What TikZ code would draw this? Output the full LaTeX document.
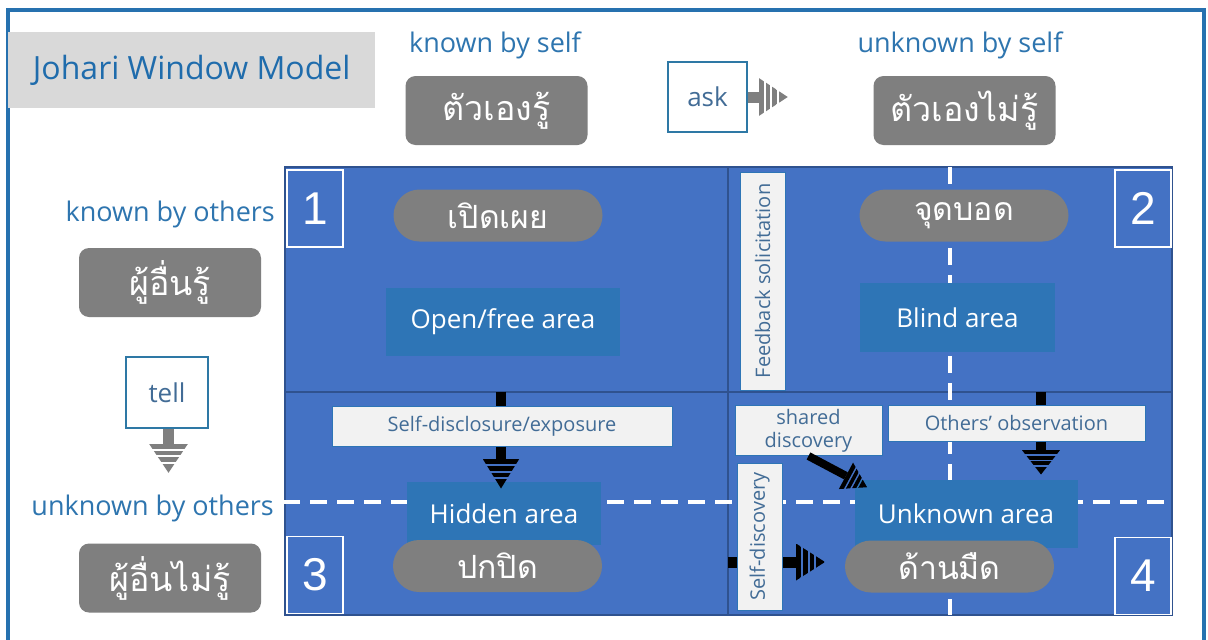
\documentclass[tikz,border=0pt]{standalone}
\usepackage{fontspec}
\setmainfont{Open Sans}
\newfontfamily\thaifont[Script=Thai]{Loma}
\newfontfamily\numfont{Liberation Sans}
\usetikzlibrary{calc}
\definecolor{framecol}{RGB}{38,113,175}
\definecolor{titlegray}{RGB}{217,217,217}
\definecolor{titleblue}{RGB}{31,108,172}
\definecolor{headblue}{RGB}{46,117,175}
\definecolor{boxgray}{RGB}{127,127,127}
\definecolor{quadfill}{RGB}{68,114,196}
\definecolor{divcol}{RGB}{47,82,143}
\definecolor{areafill}{RGB}{46,117,182}
\definecolor{lblfill}{RGB}{242,242,242}
\definecolor{lbltext}{RGB}{66,108,150}
\definecolor{askcol}{RGB}{46,120,165}
\tikzset{
  shead/.pic={
    \begin{scope}
      \clip (0,-1) -- (1,0) -- (0,1) -- cycle;
      \fill (0,-1) rectangle (0.18,1);
      \fill (0.25,-1) rectangle (0.40,1);
      \fill (0.47,-1) rectangle (0.62,1);
      \fill (0.69,-1) rectangle (1.01,1);
    \end{scope}
  }
}
\begin{document}
\begin{tikzpicture}[x=1pt,y=-1pt,
  hdr/.style={text=headblue, font=\fontsize{27}{27}\selectfont, inner sep=0},
  thaibox/.style={fill=boxgray, rounded corners=10, minimum width=182, minimum height=69, inner sep=0, text=white, font=\thaifont\fontsize{34}{34}\selectfont},
  askbox/.style={draw=askcol, line width=1.5, fill=white, text=lbltext, font=\fontsize{26}{26}\selectfont, inner sep=0},
  numbox/.style={draw=white, line width=1.5, minimum width=56, minimum height=77, inner sep=0, text=white, font=\numfont\fontsize{46}{46}\selectfont},
  pill/.style={fill=boxgray, rounded corners=26, minimum width=209, minimum height=52, inner sep=0, text=white, font=\thaifont\fontsize{32}{32}\selectfont},
  areabox/.style={fill=areafill, inner sep=0, text=white, font=\fontsize{26}{26}\selectfont},
  lbl/.style={fill=lblfill, draw=areafill, line width=1, inner sep=0, text=lbltext, font=\fontsize{20}{24}\selectfont, align=center},
  blackstem/.style={line width=10, black},
  graystem/.style={line width=11, boxgray},
  wdash/.style={white, line width=4, dash pattern=on 17 off 10},
]
\useasboundingbox (0,0) rectangle (1208,640);
\fill[white] (0,0) rectangle (1208,640);
% outer frame
\draw[framecol, line width=3.5] (8,641) -- (8,10) -- (1204,10) -- (1204,641);
% title
\node[fill=titlegray, minimum width=367, minimum height=76, inner sep=0, anchor=north west,
      text=titleblue, font=\fontsize{32}{32}\selectfont] (title) at (8,32) {Johari Window Model};
% headers
\node[hdr, anchor=base] (kself) at (495,52) {known by self};
\node[hdr, anchor=base] (uself) at (960,52) {unknown by self};
\node[hdr, anchor=base east] (kothers) at (275,221) {known by others};
\node[hdr, anchor=base east] (uothers) at (274,515) {unknown by others};
\node[thaibox] (tks) at (496.5,110.5) {ตัวเองรู้};
\node[thaibox] (tus) at (964.5,110.5) {ตัวเองไม่รู้};
\node[thaibox] (tko) at (170,282.5) {ผู้อื่นรู้};
\node[thaibox] (tuo) at (170,578) {ผู้อื่นไม่รู้};
% ask / tell
\node[askbox, minimum width=79, minimum height=70] (ask) at (707.5,97) {ask};
\draw[graystem] (ask.east) -- ++(11,0) coordinate (askh);
\pic[boxgray, xscale=29, yscale=19] at (askh) {shead};
\node[askbox, minimum width=82, minimum height=71] (tell) at (167,392.5) {tell};
\draw[graystem] ($(tell.south)+(1.5,0)$) -- ++(0,15) coordinate (tellh);
\pic[boxgray, rotate=-90, xscale=29, yscale=19.5] at (tellh) {shead};
% quadrants
\draw[divcol, line width=2, fill=quadfill] (285,167) rectangle (1172,615);
\draw[divcol, line width=2] (728,167) -- (728,615);
\draw[divcol, line width=2] (285,392) -- (1172,392);
\draw[wdash] (283,502) -- (1172,502);
\draw[wdash] (950,167) -- (950,615);
% areas
\node[areabox, minimum width=234, minimum height=68] (open) at (503,322) {Open/free area};
\node[areabox, minimum width=195, minimum height=69] (blind) at (957.5,317.5) {Blind area};
\node[areabox, minimum width=194, minimum height=63] (hidden) at (504,513.5) {Hidden area};
\node[areabox, minimum width=223, minimum height=68] (unknown) at (966,514) {Unknown area};
% pills
\node[pill] (p1) at (498,215.5) {เปิดเผย};
\node[pill] (p2) at (964,215.5) {จุดบอด};
\node[pill] (p3) at (497.5,566) {ปกปิด};
\node[pill] (p4) at (949.5,566.5) {ด้านมืด};
% numbers
\node[numbox] (n1) at (315,208.5) {1};
\node[numbox] (n2) at (1143,208.5) {2};
\node[numbox] (n3) at (315,575) {3};
\node[numbox] (n4) at (1143,576) {4};
% self-disclosure arrow
\node[lbl, minimum width=340, minimum height=40] (sd) at (502,426) {Self-disclosure/exposure};
\draw[blackstem] ($(sd.north)+(-1,-14)$) -- ($(sd.north)+(-1,0)$);
\draw[blackstem] ($(sd.south)+(-1,0)$) -- ++(0,12) coordinate (sdh);
\pic[black, rotate=-90, xscale=30, yscale=18.5] at (sdh) {shead};
% others' observation arrow
\node[lbl, minimum width=257, minimum height=36] (obs) at (1016.5,423) {Others’ observation};
\coordinate (obsx) at (1041,392);
\draw[blackstem] (obsx) -- (obsx |- obs.north);
\draw[blackstem] (obsx |- obs.south) -- ++(0,8) coordinate (obsh);
\pic[black, rotate=-90, xscale=25, yscale=19.5] at (obsh) {shead};
% shared discovery arrow
\node[lbl, minimum width=147, minimum height=50, font=\fontsize{20}{23}\selectfont] (shared) at (808.5,430.5) {shared\\discovery};
\coordinate (dtip) at (867,487);
\draw[line width=8, black] (shared.south) -- ($(shared.south)!0.64!(dtip)$) coordinate (dh);
\pic[black, rotate=-28.3, xscale=24, yscale=15] at (dh) {shead};
% feedback solicitation
\node[lbl, rotate=90, minimum width=218, minimum height=45] (fb) at (762.5,281) {Feedback solicitation};
% self-discovery arrow
\coordinate (sdl) at (728,562);
\draw[black, line width=11] (sdl) -- (796,562) coordinate (sdh2);
\node[lbl, rotate=90, minimum width=147, minimum height=45] (sdisc) at (759.5,536.5) {Self-discovery};
\pic[black, xscale=29, yscale=18.5] at (sdh2) {shead};
\end{tikzpicture}
\end{document}
